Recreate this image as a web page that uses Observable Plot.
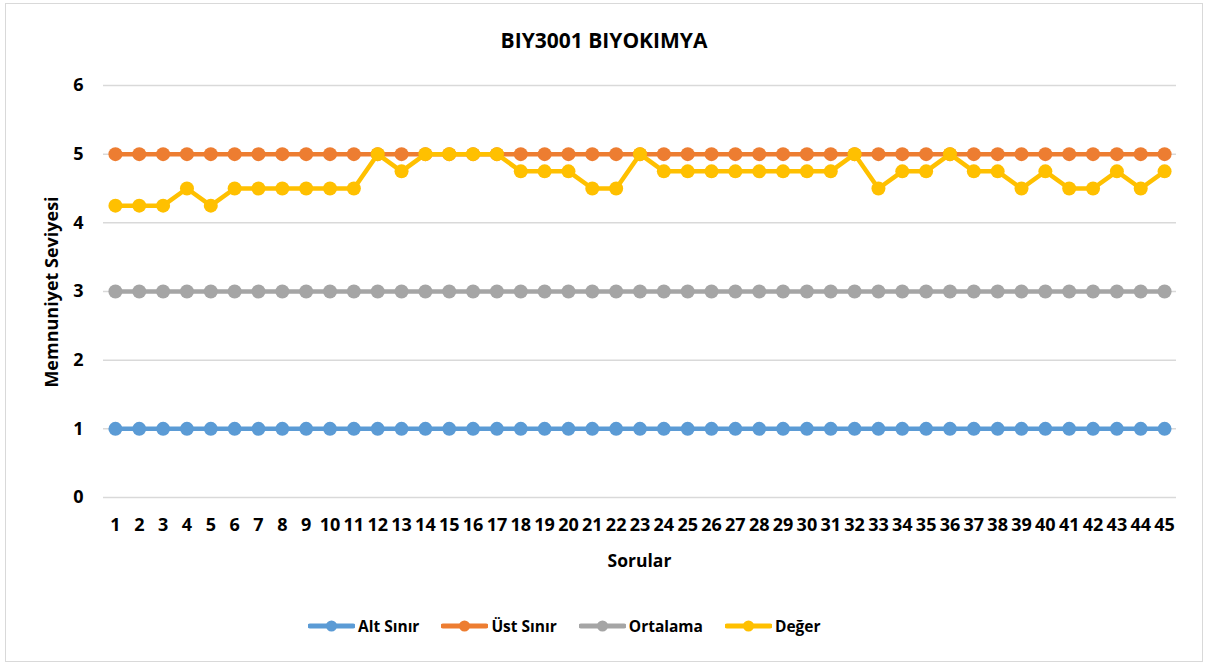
<!DOCTYPE html>
<html><head><meta charset="utf-8">
<script src="https://cdn.jsdelivr.net/npm/d3@7"></script>
<script src="https://cdn.jsdelivr.net/npm/@observablehq/plot@0.6"></script>
<style>
body{margin:0;background:#fff;font-family:"Open Sans",sans-serif;color:#000;}
#wrap{position:relative;width:1206px;height:666px;overflow:hidden;background:#fff;}
#frame{position:absolute;left:5px;top:3px;width:1196px;height:657px;border:1px solid #d9d9d9;}
#title{position:absolute;left:5px;width:1198px;top:26px;text-align:center;font-weight:700;font-size:21px;line-height:28px;}
#chart{position:absolute;left:0;top:0;}
#ylab{position:absolute;left:51px;top:292px;transform:translate(-50%,-50%) rotate(-90deg);font-weight:700;font-size:18px;white-space:nowrap;line-height:22px;}
#xlab{position:absolute;left:103px;width:1073px;top:548px;text-align:center;font-weight:700;font-size:17.5px;line-height:24px;}
#legend{position:absolute;left:308px;top:614px;height:24px;display:flex;align-items:center;font-weight:700;font-size:15.5px;white-space:nowrap;}
.item{display:flex;align-items:center;margin-right:22px;}
.item svg{margin-right:3px;}
</style>
</head><body>
<div id="wrap">
  <div id="frame"></div>
  <div id="title"></div>
  <div id="chart"></div>
  <div id="ylab"></div>
  <div id="xlab"></div>
  <div id="legend"></div>
</div>
<script>
const chartTitle = "BIY3001 BIYOKIMYA";
const yTitle = "Memnuniyet Seviyesi";
const xTitle = "Sorular";
const questions = [1,2,3,4,5,6,7,8,9,10,11,12,13,14,15,16,17,18,19,20,21,22,23,24,25,26,27,28,29,30,31,32,33,34,35,36,37,38,39,40,41,42,43,44,45];
const yTicks = [0,1,2,3,4,5,6];
const seriesNames = ["Alt Sınır","Üst Sınır","Ortalama","Değer"];
const seriesColors = ["#5b9bd5","#ed7d31","#a5a5a5","#ffc000"];
const altSinir = [1,1,1,1,1,1,1,1,1,1,1,1,1,1,1,1,1,1,1,1,1,1,1,1,1,1,1,1,1,1,1,1,1,1,1,1,1,1,1,1,1,1,1,1,1];
const ustSinir = [5,5,5,5,5,5,5,5,5,5,5,5,5,5,5,5,5,5,5,5,5,5,5,5,5,5,5,5,5,5,5,5,5,5,5,5,5,5,5,5,5,5,5,5,5];
const ortalama = [3,3,3,3,3,3,3,3,3,3,3,3,3,3,3,3,3,3,3,3,3,3,3,3,3,3,3,3,3,3,3,3,3,3,3,3,3,3,3,3,3,3,3,3,3];
const deger = [4.25,4.25,4.25,4.5,4.25,4.5,4.5,4.5,4.5,4.5,4.5,5,4.75,5,5,5,5,4.75,4.75,4.75,4.5,4.5,5,4.75,4.75,4.75,4.75,4.75,4.75,4.75,4.75,5,4.5,4.75,4.75,5,4.75,4.75,4.5,4.75,4.5,4.5,4.75,4.5,4.75];

const allSeries = [altSinir, ustSinir, ortalama, deger];

document.getElementById("title").textContent = chartTitle;
document.getElementById("ylab").textContent = yTitle;
document.getElementById("xlab").textContent = xTitle;

const seriesMarks = [];
allSeries.forEach((vals, i) => {
  const rows = questions.map((q, j) => ({q, v: vals[j]}));
  seriesMarks.push(Plot.line(rows, {x: "q", y: "v", stroke: seriesColors[i], strokeWidth: 4.5, curve: "linear"}));
  seriesMarks.push(Plot.dot(rows, {x: "q", y: "v", fill: seriesColors[i], r: 7, stroke: "none"}));
});

const plot = Plot.plot({
  width: 1206,
  height: 580,
  marginLeft: 103,
  marginRight: 30,
  marginTop: 85,
  marginBottom: 83,
  style: {fontFamily: "'Open Sans', sans-serif", fontWeight: 700, fontSize: "18px", color: "#000", background: "transparent", overflow: "visible"},
  x: {type: "point", domain: questions, padding: 0.5},
  y: {domain: [0, 6]},
  marks: [
    Plot.ruleY(yTicks, {stroke: "#d9d9d9", strokeWidth: 1.5}),
    Plot.axisX({tickSize: 0, tickPadding: 21, label: null, fontSize: 18, fontWeight: 700}),
    Plot.axisY(yTicks, {tickSize: 0, tickPadding: 20, label: null, fontSize: 18, fontWeight: 700, tickFormat: d => String(d)}),
    ...seriesMarks
  ]
});
document.getElementById("chart").appendChild(plot);

const legend = document.getElementById("legend");
seriesNames.forEach((name, i) => {
  const item = document.createElement("div");
  item.className = "item";
  const ns = "http://www.w3.org/2000/svg";
  const s = document.createElementNS(ns, "svg");
  s.setAttribute("width", 47); s.setAttribute("height", 14);
  const ln = document.createElementNS(ns, "line");
  ln.setAttribute("x1", 2); ln.setAttribute("x2", 45); ln.setAttribute("y1", 7); ln.setAttribute("y2", 7);
  ln.setAttribute("stroke", seriesColors[i]); ln.setAttribute("stroke-width", 5); ln.setAttribute("stroke-linecap", "round");
  const c = document.createElementNS(ns, "circle");
  c.setAttribute("cx", 23.5); c.setAttribute("cy", 7); c.setAttribute("r", 5.5); c.setAttribute("fill", seriesColors[i]);
  s.appendChild(ln); s.appendChild(c);
  const t = document.createElement("span");
  t.textContent = name;
  item.appendChild(s); item.appendChild(t);
  legend.appendChild(item);
});
</script>
</body></html>
